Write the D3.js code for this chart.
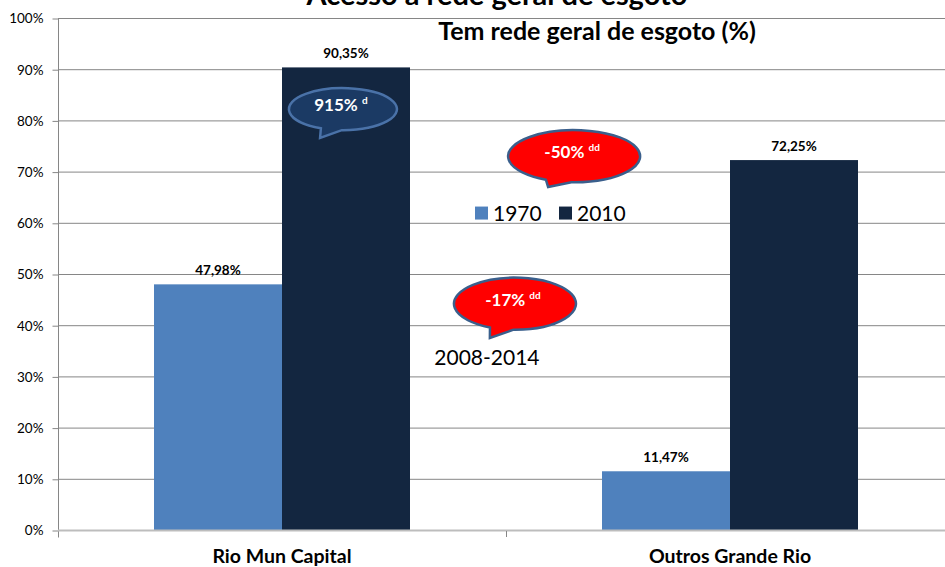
<!DOCTYPE html>
<html>
<head>
<meta charset="utf-8">
<script src="https://cdn.jsdelivr.net/npm/d3@7"></script>
<style>
body { margin: 0; background: #fff; }
text { font-family: Lato, "Open Sans", sans-serif; }
</style>
</head>
<body>
<div class="chart"></div>
<script>
const WIDTH = 945;
const HEIGHT = 567;

// data
var categories = ["Rio Mun Capital", "Outros Grande Rio"];
var series = ["1970", "2010"];
var values1970 = [47.98, 11.47];
var values2010 = [90.35, 72.25];
var labels1970 = ["47,98%", "11,47%"];
var labels2010 = ["90,35%", "72,25%"];
var yTicks = [0, 10, 20, 30, 40, 50, 60, 70, 80, 90, 100];
var colors = ["#4f81bd", "#132640"];

// callouts: position in category units (x) and percent (y)
var bubbleText = ["915%", "-50%", "-17%"];
var bubbleSup = ["d", "dd", "dd"];
var bubbleX = [0.636, 1.152, 1.020];
var bubbleY = [82.2, 73.0, 44.2];
var bubbleTipX = [0.585, 1.094, 0.964];
var bubbleTipY = [76.6, 67.0, 37.5];

var translate = function(x, y){
    return "translate(" + x + "," + y + ")";
};

var svg = d3.select(".chart").append("svg")
    .attr("width", WIDTH)
    .attr("height", HEIGHT);

var yScale = d3.scaleLinear().domain([0, 100]).range([530, 18]);
var x0 = d3.scaleBand().domain(categories).range([58, 954]).padding(0);
var x1 = d3.scaleBand().domain(series).range([96, 352]).padding(0);
var xCat = d3.scaleLinear().domain([0, 2]).range([58, 954]);

// gridlines
svg.append("g")
    .selectAll("line")
    .data(yTicks.slice(1))
    .enter().append("line")
    .attr("x1", 58).attr("x2", WIDTH)
    .attr("y1", function(d){ return yScale(d) + 0.5; })
    .attr("y2", function(d){ return yScale(d) + 0.5; })
    .attr("stroke", "#868686");

// y axis
var yAxis = d3.axisLeft(yScale)
    .tickValues(yTicks)
    .tickSize(6)
    .tickFormat(function(d){ return d + "%"; });
var yg = svg.append("g").attr("transform", translate(58.5, 0.5)).call(yAxis);
yg.select(".domain").attr("stroke", "#868686").attr("d", "M0,18V537");
yg.selectAll(".tick line").attr("stroke", "#868686");
yg.selectAll(".tick text")
    .attr("x", -15)
    .attr("fill", "#000")
    .style("font-size", "13.5px")
    .style("font-family", "Lato, sans-serif");

// bars
var groups = svg.append("g").selectAll("g")
    .data(categories)
    .enter().append("g")
    .attr("transform", function(d){ return translate(x0(d), 0); });

groups.selectAll("rect")
    .data(function(d, i){ return [values1970[i], values2010[i]]; })
    .enter().append("rect")
    .attr("x", function(d, j){ return x1(series[j]); })
    .attr("width", x1.bandwidth())
    .attr("y", function(d){ return yScale(d); })
    .attr("height", function(d){ return yScale(0) - yScale(d); })
    .attr("fill", function(d, j){ return colors[j]; });

groups.selectAll("text.lbl")
    .data(function(d, i){ return [[values1970[i], labels1970[i]], [values2010[i], labels2010[i]]]; })
    .enter().append("text")
    .attr("class", "lbl")
    .attr("x", function(d, j){ return x1(series[j]) + x1.bandwidth() / 2; })
    .attr("y", function(d){ return yScale(d[0]) - 9; })
    .attr("text-anchor", "middle")
    .style("font-size", "13.5px")
    .style("font-weight", "bold")
    .text(function(d){ return d[1]; });

// x axis baseline
svg.append("line")
    .attr("x1", 58).attr("x2", WIDTH)
    .attr("y1", yScale(0) + 0.5).attr("y2", yScale(0) + 0.5)
    .attr("stroke", "#bdbdbd").attr("stroke-width", 2);

var xAxis = d3.axisBottom(x0).tickSize(0);
var xg = svg.append("g").attr("transform", translate(0, 530)).call(xAxis);
xg.select(".domain").remove();
xg.selectAll(".tick text")
    .attr("y", 33)
    .attr("dy", "0")
    .attr("fill", "#000")
    .style("font-size", "19.5px")
    .style("font-weight", "bold")
    .style("font-family", "Lato, sans-serif");
svg.append("line")
    .attr("x1", x0(categories[1]) + 0.5).attr("x2", x0(categories[1]) + 0.5)
    .attr("y1", 531).attr("y2", 537)
    .attr("stroke", "#868686");

// titles
svg.append("text")
    .attr("x", 497).attr("y", 5)
    .attr("text-anchor", "middle")
    .style("font-size", "29px")
    .style("font-weight", "bold")
    .text("Acesso à rede geral de esgoto");

svg.append("text")
    .attr("x", 597).attr("y", 40)
    .attr("text-anchor", "middle")
    .style("font-size", "25px")
    .style("font-weight", "bold")
    .text("Tem rede geral de esgoto (%)");

// legend
var legend = svg.append("g").attr("transform", translate(475, yScale(62)));
series.forEach(function(s, i){
    var lg = legend.append("g").attr("transform", translate(i * 84, 0));
    lg.append("rect").attr("x", 0).attr("y", -6).attr("width", 13).attr("height", 13).attr("fill", colors[i]);
    lg.append("text").attr("x", 18).attr("y", 8).style("font-size", "21px").text(s);
});

svg.append("text")
    .attr("x", xCat(0.84)).attr("y", yScale(33.6) + 7)
    .style("font-size", "21px")
    .text("2008-2014");

// callouts
var rx = [54, 66, 61];
var ry = [21, 26, 26];
var fills = ["#1b3a64", "#ff0000", "#ff0000"];
var strokes = ["#4a72a8", "#3a5f8c", "#3a5f8c"];

bubbleText.forEach(function(t, i){
    var cx = xCat(bubbleX[i]), cy = yScale(bubbleY[i]);
    var tx = xCat(bubbleTipX[i]), ty = yScale(bubbleTipY[i]);
    var a = Math.atan2((ty - cy) / ry[i], (tx - cx) / rx[i]);
    var a1 = a - 0.28, a2 = a + 0.12;
    var p1 = [cx + rx[i] * Math.cos(a2), cy + ry[i] * Math.sin(a2)];
    var p2 = [cx + rx[i] * Math.cos(a1), cy + ry[i] * Math.sin(a1)];
    var path = "M" + p1 + "A" + rx[i] + "," + ry[i] + " 0 1 1 " + p2 + "L" + tx + "," + ty + "Z";
    var g = svg.append("g");
    g.append("path").attr("d", path)
        .attr("fill", fills[i])
        .attr("stroke", strokes[i])
        .attr("stroke-width", 2.5);
    var txt = g.append("text")
        .attr("x", cx - 2).attr("y", cy + 2)
        .attr("text-anchor", "middle")
        .attr("fill", "#fff")
        .style("font-weight", "bold")
        .style("font-size", "17px");
    txt.append("tspan").text(t + " ");
    txt.append("tspan").attr("dy", -7).style("font-size", "10px").text(bubbleSup[i]);
});
</script>
</body>
</html>
